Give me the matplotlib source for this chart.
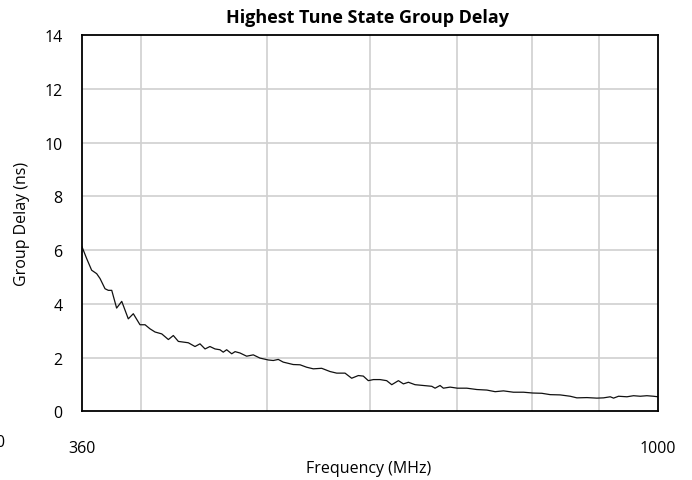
import matplotlib
matplotlib.use('Agg')
import matplotlib.pyplot as plt
from matplotlib.ticker import FixedLocator, NullLocator

# data (frequency in MHz, group delay in ns)
freq_mhz = [360, 363, 366.2, 369.5, 371.7, 375, 377.2, 379.5, 382.8, 386.3,
            390.8, 394.3, 399, 402.6, 406.1, 409.8, 414.7, 419.6, 423.3, 427.1,
            434.7, 439.9, 443.8, 447.8, 451.7, 455.8, 459.8, 462.5, 465.3, 469.5,
            472.3, 476.4, 482.1, 487.8, 493.6, 500.9, 505.4, 509.9, 514.4, 523.6,
            530, 536.2, 542.6, 550.7, 558.9, 565.6, 574, 580.8, 587.7, 592.9,
            598.2, 603.6, 610.8, 618, 623.6, 631, 636.6, 642.3, 649.9, 659.6,
            669.5, 673.4, 679.4, 683.4, 691.6, 700.6, 712.4, 725.2, 738.2, 749.1,
            760.3, 773.8, 787.7, 800.9, 813.8, 825.9, 840.7, 855.8, 866, 881.5,
            897.3, 907.9, 918.8, 924.2, 932.4, 946.4, 957.5, 969, 980.5, 992, 1000]
delay_ns = [6.12, 5.68, 5.25, 5.12, 4.94, 4.56, 4.50, 4.50, 3.84, 4.09,
            3.44, 3.63, 3.22, 3.22, 3.07, 2.95, 2.88, 2.67, 2.82, 2.60,
            2.55, 2.41, 2.51, 2.32, 2.41, 2.32, 2.29, 2.20, 2.29, 2.14,
            2.22, 2.17, 2.05, 2.10, 1.98, 1.91, 1.89, 1.93, 1.83, 1.74,
            1.73, 1.64, 1.58, 1.60, 1.48, 1.42, 1.42, 1.23, 1.33, 1.31,
            1.14, 1.18, 1.18, 1.14, 0.99, 1.14, 1.02, 1.08, 0.99, 0.96,
            0.93, 0.86, 0.96, 0.86, 0.90, 0.86, 0.86, 0.81, 0.79, 0.73,
            0.76, 0.71, 0.71, 0.68, 0.67, 0.62, 0.61, 0.56, 0.50, 0.51,
            0.49, 0.50, 0.54, 0.49, 0.56, 0.54, 0.58, 0.56, 0.58, 0.56, 0.54]

grid_x = [400, 500, 600, 700, 800, 900]
x_tick_labels = [360, 1000]
y_ticks = [0, 2, 4, 6, 8, 10, 12, 14]

plt.rcParams['font.family'] = ['Open Sans', 'DejaVu Sans']

fig = plt.figure(figsize=(6.92, 4.81), dpi=100)
ax = fig.add_axes([82/692, 1-412.3/481, 576/692, 376.3/481])

ax.set_xscale('log')
ax.set_xlim(360, 1000)
ax.set_ylim(0, 14)

# grid lines drawn by hand (log axis only labels the two ends)
for gx in grid_x:
    ax.axvline(gx, color='#d0d0d0', lw=1.2, zorder=0)
for gy in y_ticks[1:-1]:
    ax.axhline(gy, color='#d0d0d0', lw=1.2, zorder=0)

ax.plot(freq_mhz, delay_ns, color='#111111', lw=0.9)

ax.xaxis.set_major_locator(FixedLocator(x_tick_labels))
ax.xaxis.set_minor_locator(NullLocator())
ax.set_xticklabels([str(v) for v in x_tick_labels])
ax.set_yticks(y_ticks)
ax.set_yticklabels([str(v) for v in y_ticks])
ax.tick_params(axis='x', length=0, pad=21, labelsize=11.5)
ax.tick_params(axis='y', length=0, pad=14, labelsize=11.5)

for s in ax.spines.values():
    s.set_linewidth(1.3)
    s.set_color('black')

fig.text(367/692, 1-18/481, 'Highest Tune State Group Delay', ha='center', va='center',
         fontsize=13, fontweight='bold')
fig.text(369/692, 1-469/481, 'Frequency (MHz)', ha='center', va='center', fontsize=11.5)
fig.text(22/692, 1-224/481, 'Group Delay (ns)', ha='center', va='center',
         rotation=90, fontsize=11.5)

# clipped label at the far left edge, as in the reference
fig.text(4/692, 1-443/481, '0', ha='right', va='center', fontsize=11.5)

fig.savefig('out.png', dpi=100)
